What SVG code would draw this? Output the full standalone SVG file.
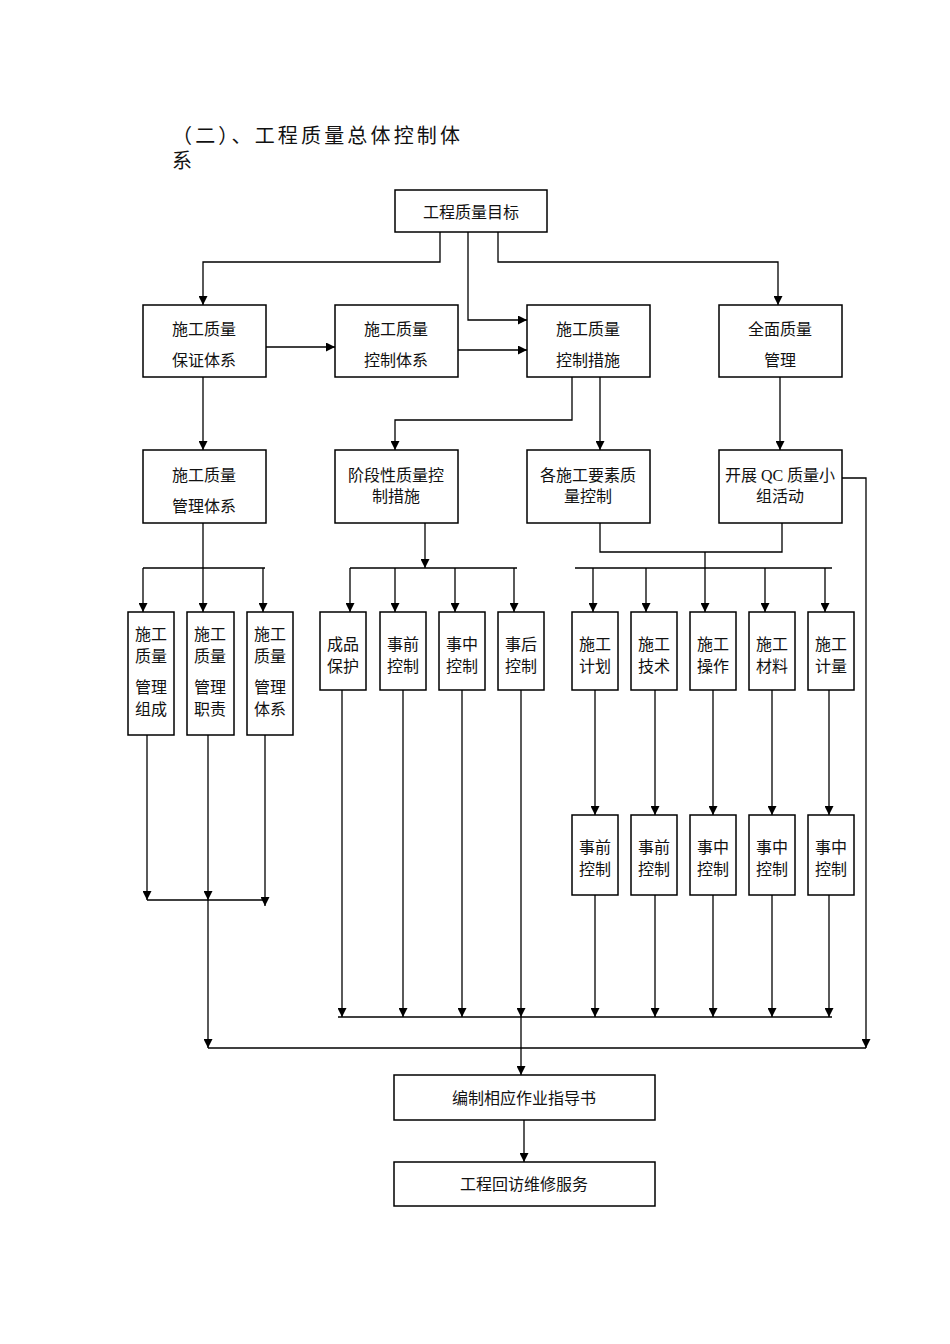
<svg xmlns="http://www.w3.org/2000/svg" width="950" height="1344" viewBox="0 0 950 1344">
<style>
rect{fill:#fff;stroke:#000;stroke-width:1.5}
text{font-family:"Liberation Serif","Noto Sans CJK SC",serif;font-size:16px;fill:#111;text-anchor:middle}
.t{font-size:20px;text-anchor:start}
#c path{fill:none;stroke:#000;stroke-width:1.3;}
.a{marker-end:url(#ar)}
</style>
<defs><marker id="ar" viewBox="0 0 10 10" refX="10" refY="5" markerWidth="10" markerHeight="9" markerUnits="userSpaceOnUse" orient="auto"><path d="M0,0L10,5L0,10z" fill="#000"/></marker></defs>
<rect width="950" height="1344" style="fill:#fff;stroke:none"/>
<text class="t" x="172" y="143" textLength="288" lengthAdjust="spacing">（二）、工程质量总体控制体</text>
<text class="t" x="172" y="168">系</text>
<g id="c">
<path d="M440,232V262H203V305" class="a"/>
<path d="M468,232V320H527" class="a"/>
<path d="M498,232V262H778V305" class="a"/>
<path d="M266,347H335" class="a"/>
<path d="M428,350H527" class="a"/>
<path d="M572,377V420H395V450" class="a"/>
<path d="M600,377V450" class="a"/>
<path d="M203,377V450" class="a"/>
<path d="M780,377V450" class="a"/>
<path d="M838,478H866V1048" class="a"/>
<path d="M600,523V552H782V523"/>
<path d="M705,552V612" class="a"/>
<path d="M203,523V612" class="a"/>
<path d="M143,568H265"/>
<path d="M143,568V612" class="a"/><path d="M263,568V612" class="a"/>
<path d="M425,523V568" class="a"/>
<path d="M350,568H517"/>
<path d="M350,568V612" class="a"/><path d="M395,568V612" class="a"/><path d="M455,568V612" class="a"/><path d="M514,568V612" class="a"/>
<path d="M575,568H832"/>
<path d="M593,568V612" class="a"/><path d="M646,568V612" class="a"/><path d="M765,568V612" class="a"/><path d="M825,568V612" class="a"/>
<path d="M147,735V900" class="a"/><path d="M208,735V900" class="a"/><path d="M265,735V906" class="a"/>
<path d="M147,900H265"/>
<path d="M208,900V1048" class="a"/>
<path d="M208,1048H866"/>
<path d="M342,690V1017" class="a"/><path d="M403,690V1017" class="a"/><path d="M462,690V1017" class="a"/><path d="M521,690V1017" class="a"/>
<path d="M521,1017V1075" class="a"/>
<path d="M338,1017H832"/>
<path d="M595,690V815" class="a"/><path d="M655,690V815" class="a"/><path d="M713,690V815" class="a"/><path d="M772,690V815" class="a"/><path d="M829,690V815" class="a"/>
<path d="M595,895V1017" class="a"/><path d="M655,895V1017" class="a"/><path d="M713,895V1017" class="a"/><path d="M772,895V1017" class="a"/><path d="M829,895V1017" class="a"/>
<path d="M524,1120V1162" class="a"/>
</g>
<g id="n0"><rect x="395" y="190" width="152" height="42"/><text x="471" y="218">工程质量目标</text></g>
<g id="n1"><rect x="143" y="305" width="123" height="72"/><text x="204" y="335">施工质量</text><text x="204" y="366">保证体系</text></g>
<g id="n2"><rect x="335" y="305" width="123" height="72"/><text x="396" y="335">施工质量</text><text x="396" y="366">控制体系</text></g>
<g id="n3"><rect x="527" y="305" width="123" height="72"/><text x="588" y="335">施工质量</text><text x="588" y="366">控制措施</text></g>
<g id="n4"><rect x="719" y="305" width="123" height="72"/><text x="780" y="335">全面质量</text><text x="780" y="366">管理</text></g>
<g id="n5"><rect x="143" y="450" width="123" height="73"/><text x="204" y="481">施工质量</text><text x="204" y="512">管理体系</text></g>
<g id="n6"><rect x="335" y="450" width="123" height="73"/><text x="396" y="481">阶段性质量控</text><text x="396" y="502">制措施</text></g>
<g id="n7"><rect x="527" y="450" width="123" height="73"/><text x="588" y="481">各施工要素质</text><text x="588" y="502">量控制</text></g>
<g id="n8"><rect x="719" y="450" width="123" height="73"/><text x="780" y="481">开展 QC 质量小</text><text x="780" y="502">组活动</text></g>
<g id="n9"><rect x="128" y="612" width="46" height="123"/><text x="151" y="640">施工</text><text x="151" y="662">质量</text><text x="151" y="693">管理</text><text x="151" y="715">组成</text></g>
<g id="n10"><rect x="187" y="612" width="47" height="123"/><text x="210" y="640">施工</text><text x="210" y="662">质量</text><text x="210" y="693">管理</text><text x="210" y="715">职责</text></g>
<g id="n11"><rect x="247" y="612" width="46" height="123"/><text x="270" y="640">施工</text><text x="270" y="662">质量</text><text x="270" y="693">管理</text><text x="270" y="715">体系</text></g>
<g id="n12"><rect x="320" y="612" width="46" height="78"/><text x="343" y="650">成品</text><text x="343" y="672">保护</text></g>
<g id="n13"><rect x="380" y="612" width="46" height="78"/><text x="403" y="650">事前</text><text x="403" y="672">控制</text></g>
<g id="n14"><rect x="439" y="612" width="46" height="78"/><text x="462" y="650">事中</text><text x="462" y="672">控制</text></g>
<g id="n15"><rect x="498" y="612" width="46" height="78"/><text x="521" y="650">事后</text><text x="521" y="672">控制</text></g>
<g id="n16"><rect x="572" y="612" width="46" height="78"/><text x="595" y="650">施工</text><text x="595" y="672">计划</text></g>
<g id="n17"><rect x="631" y="612" width="46" height="78"/><text x="654" y="650">施工</text><text x="654" y="672">技术</text></g>
<g id="n18"><rect x="690" y="612" width="46" height="78"/><text x="713" y="650">施工</text><text x="713" y="672">操作</text></g>
<g id="n19"><rect x="749" y="612" width="46" height="78"/><text x="772" y="650">施工</text><text x="772" y="672">材料</text></g>
<g id="n20"><rect x="808" y="612" width="46" height="78"/><text x="831" y="650">施工</text><text x="831" y="672">计量</text></g>
<g id="n21"><rect x="572" y="815" width="46" height="80"/><text x="595" y="853">事前</text><text x="595" y="875">控制</text></g>
<g id="n22"><rect x="631" y="815" width="46" height="80"/><text x="654" y="853">事前</text><text x="654" y="875">控制</text></g>
<g id="n23"><rect x="690" y="815" width="46" height="80"/><text x="713" y="853">事中</text><text x="713" y="875">控制</text></g>
<g id="n24"><rect x="749" y="815" width="46" height="80"/><text x="772" y="853">事中</text><text x="772" y="875">控制</text></g>
<g id="n25"><rect x="808" y="815" width="46" height="80"/><text x="831" y="853">事中</text><text x="831" y="875">控制</text></g>
<g id="n26"><rect x="394" y="1075" width="261" height="45"/><text x="524" y="1104">编制相应作业指导书</text></g>
<g id="n27"><rect x="394" y="1162" width="261" height="44"/><text x="524" y="1190">工程回访维修服务</text></g>
</svg>
